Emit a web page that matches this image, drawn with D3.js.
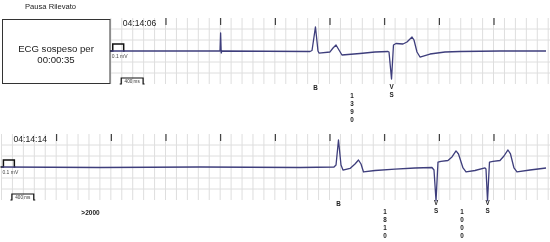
<!DOCTYPE html>
<html>
<head>
<meta charset="utf-8">
<script src="https://cdn.jsdelivr.net/npm/d3@7"></script>
<style>
body { margin: 0; background: #fff; }
svg { display: block; font-family: Arial, "Liberation Sans", sans-serif; opacity: 0.999; will-change: transform; }
</style>
</head>
<body>
<svg id="chart" width="550" height="242"></svg>
<script>
// Strip data.
var stripStart = [2.0, 0.0];                 // seconds at left edge of each strip
var stripClock = ["04:14:06", "04:14:14"];
var secondTicks = [[3, 4, 5, 6, 7, 8, 9], [1, 2, 3, 4, 5, 6, 7, 8, 9]];

// ECG samples as [time s, amplitude mV].
var traceTop = [
    [1.985, 0], [3.978, 0], [3.997, 0], [4.008, 0.257], [4.019, -0.029], [4.030, 0],
    [5.643, -0.007], [5.680, 0.007], [5.743, 0.343], [5.789, 0], [5.808, -0.029],
    [6.009, -0.014], [6.064, 0.043], [6.119, 0.086], [6.173, 0.014], [6.228, -0.057],
    [6.557, -0.036], [6.832, -0.014], [7.070, -0.007], [7.088, -0.014], [7.134, -0.4],
    [7.170, 0.086], [7.216, 0.107], [7.344, 0.1], [7.417, 0.129], [7.509, 0.2],
    [7.545, 0.157], [7.600, -0.014], [7.655, -0.086], [7.838, -0.043], [8.112, -0.014],
    [8.387, -0.007], [9.118, 0], [9.960, 0]
];
var traceBottom = [
    [0.0, 0], [1.80, -0.007], [3.63, 0], [5.460, -0.007], [6.082, 0], [6.119, 0.029],
    [6.164, 0.386], [6.210, 0.029], [6.246, -0.043], [6.375, -0.021], [6.466, 0.043],
    [6.530, 0.1], [6.576, 0.043], [6.622, -0.071], [6.832, -0.05], [7.198, -0.029],
    [7.564, -0.014], [7.874, -0.007], [7.911, -0.043], [7.948, -0.48], [7.984, 0.071],
    [8.039, 0.079], [8.167, 0.093], [8.240, 0.143], [8.314, 0.229], [8.359, 0.186],
    [8.442, -0.014], [8.497, -0.071], [8.661, -0.05], [8.844, -0.014], [8.862, -0.029],
    [8.890, -0.48], [8.926, 0.071], [8.990, 0.079], [9.118, 0.093], [9.191, 0.157],
    [9.264, 0.243], [9.310, 0.186], [9.374, -0.014], [9.429, -0.071], [9.667, -0.043],
    [9.960, -0.014]
];

// Beat annotations and R-R intervals (ms).
var beatsTop = [{t: 5.743, marks: ["B"]}, {t: 7.134, marks: ["V", "S"]}];
var beatsBottom = [{t: 6.164, marks: ["B"]}, {t: 7.948, marks: ["V", "S"]}, {t: 8.890, marks: ["V", "S"]}];
var rrTop = [{t: 6.41, value: "1390"}];
var rrBottom = [{t: 7.015, value: "1810"}, {t: 8.424, value: "1000"}];
var pauseNote = {t: 1.628, value: ">2000"};

var pauseTitle = "Pausa Rilevato";
var suspendedLines = ["ECG sospeso per", "00:00:35"];
var calMv = 0.1, calMs = 200, scaleBarMs = 400;

var svg = d3.select("#chart");

// 54.67 px per second, same for both strips.
var x = d3.scaleLinear().domain([0, 10]).range([1.5, 548.2]);
var traceColor = "#3e3e7c";

function drawStrip(base, start, clock, ticks, trace, beats, rrs) {
    var g = svg.append("g");
    var y = d3.scaleLinear().domain([-0.471, 0.471]).range([base + 33, base - 33]);

    // Light grid: 200 ms columns, 0.157 mV rows.
    var cols = d3.range(Math.round(start * 5), 51).map(function(i) { return i / 5; });
    g.selectAll("line.vgrid")
        .data(cols)
        .enter().append("line")
        .attr("class", "vgrid")
        .attr("x1", x).attr("x2", x)
        .attr("y1", base - 33).attr("y2", base + 33)
        .attr("stroke", "#dedede").attr("stroke-width", 1);

    g.selectAll("line.hgrid")
        .data([-2, -1, 1, 2].map(function(k) { return k * 0.157; }))
        .enter().append("line")
        .attr("class", "hgrid")
        .attr("x1", x(start)).attr("x2", 550)
        .attr("y1", y).attr("y2", y)
        .attr("stroke", "#dedede").attr("stroke-width", 1);

    // One-second tick marks above the trace.
    var tickAxis = d3.axisTop(x).tickValues(ticks).tickSize(7).tickFormat("");
    var ta = g.append("g").attr("transform", "translate(0," + (base - 26) + ")").call(tickAxis);
    ta.select(".domain").remove();
    ta.selectAll("line").attr("stroke", "#222").attr("stroke-width", 1);

    g.append("text")
        .attr("x", x(start) + 12).attr("y", base - 25)
        .attr("font-size", 8.6).attr("fill", "#222")
        .text(clock);

    // Calibration pulse.
    var c0 = x(start + 0.035), c1 = x(start + 0.035 + calMs / 1000);
    g.append("path")
        .attr("d", "M" + (x(start) - 1) + "," + y(0) + "H" + c0 + "V" + y(calMv) + "H" + c1 + "V" + y(0) + "H" + (c1 + 1))
        .attr("fill", "none").attr("stroke", "#111").attr("stroke-width", 1.5);
    g.append("text")
        .attr("x", c0 - 1).attr("y", base + 6.5)
        .attr("font-size", 5).attr("fill", "#444")
        .text(calMv + " mV");

    // Trace.
    var line = d3.line()
        .x(function(d) { return x(d[0]); })
        .y(function(d) { return y(d[1]); });
    g.append("path")
        .datum(trace)
        .attr("d", line)
        .attr("fill", "none")
        .attr("stroke", traceColor)
        .attr("stroke-width", 1.3)
        .attr("stroke-linejoin", "round");

    // 400 ms scale bar.
    var s0 = x(start + 0.19), s1 = x(start + 0.19 + scaleBarMs / 1000);
    g.append("path")
        .attr("d", "M" + (s0 - 1.5) + "," + (base + 33) + "H" + s0 + "V" + (base + 27) + "H" + s1 + "V" + (base + 33) + "H" + (s1 + 1.5))
        .attr("fill", "none").attr("stroke", "#111").attr("stroke-width", 1.2);
    g.append("text")
        .attr("x", (s0 + s1) / 2).attr("y", base + 32.3)
        .attr("text-anchor", "middle")
        .attr("font-size", 4.6).attr("fill", "#333")
        .text(scaleBarMs + " ms");

    // Beat letters under each complex.
    beats.forEach(function(b) {
        var offs = b.marks.length > 1 ? [36, 44] : [37];
        b.marks.forEach(function(m, i) {
            g.append("text")
                .attr("x", x(b.t)).attr("y", base + offs[i])
                .attr("dy", "0.35em")
                .attr("text-anchor", "middle")
                .attr("font-size", 6.3).attr("font-weight", "bold").attr("fill", "#222")
                .text(m);
        });
    });

    // R-R values written vertically, one digit per row.
    rrs.forEach(function(r) {
        g.selectAll(null)
            .data(r.value.split(""))
            .enter().append("text")
            .attr("x", x(r.t))
            .attr("y", function(d, i) { return base + 45 + i * 8; })
            .attr("dy", "0.35em")
            .attr("text-anchor", "middle")
            .attr("font-size", 6.3).attr("font-weight", "bold").attr("fill", "#222")
            .text(function(d) { return d; });
    });
    return g;
}

drawStrip(51, stripStart[0], stripClock[0], secondTicks[0], traceTop, beatsTop, rrTop);
var bottom = drawStrip(167, stripStart[1], stripClock[1], secondTicks[1], traceBottom, beatsBottom, rrBottom);

bottom.append("text")
    .attr("x", x(pauseNote.t)).attr("y", 167 + 46)
    .attr("dy", "0.35em")
    .attr("text-anchor", "middle")
    .attr("font-size", 6.5).attr("font-weight", "bold").attr("fill", "#222")
    .text(pauseNote.value);

// Header and suspended-ECG box.
svg.append("text")
    .attr("x", 25).attr("y", 9)
    .attr("font-size", 7.6).attr("fill", "#222")
    .text(pauseTitle);

svg.append("rect")
    .attr("x", 2.5).attr("y", 19.5).attr("width", 107.5).attr("height", 64)
    .attr("fill", "#fff").attr("stroke", "#333").attr("stroke-width", 1);

svg.selectAll("text.susp")
    .data(suspendedLines)
    .enter().append("text")
    .attr("class", "susp")
    .attr("x", 56).attr("y", function(d, i) { return 52 + i * 10.5; })
    .attr("text-anchor", "middle")
    .attr("font-size", 9.6).attr("fill", "#222")
    .text(function(d) { return d; });
</script>
</body>
</html>
